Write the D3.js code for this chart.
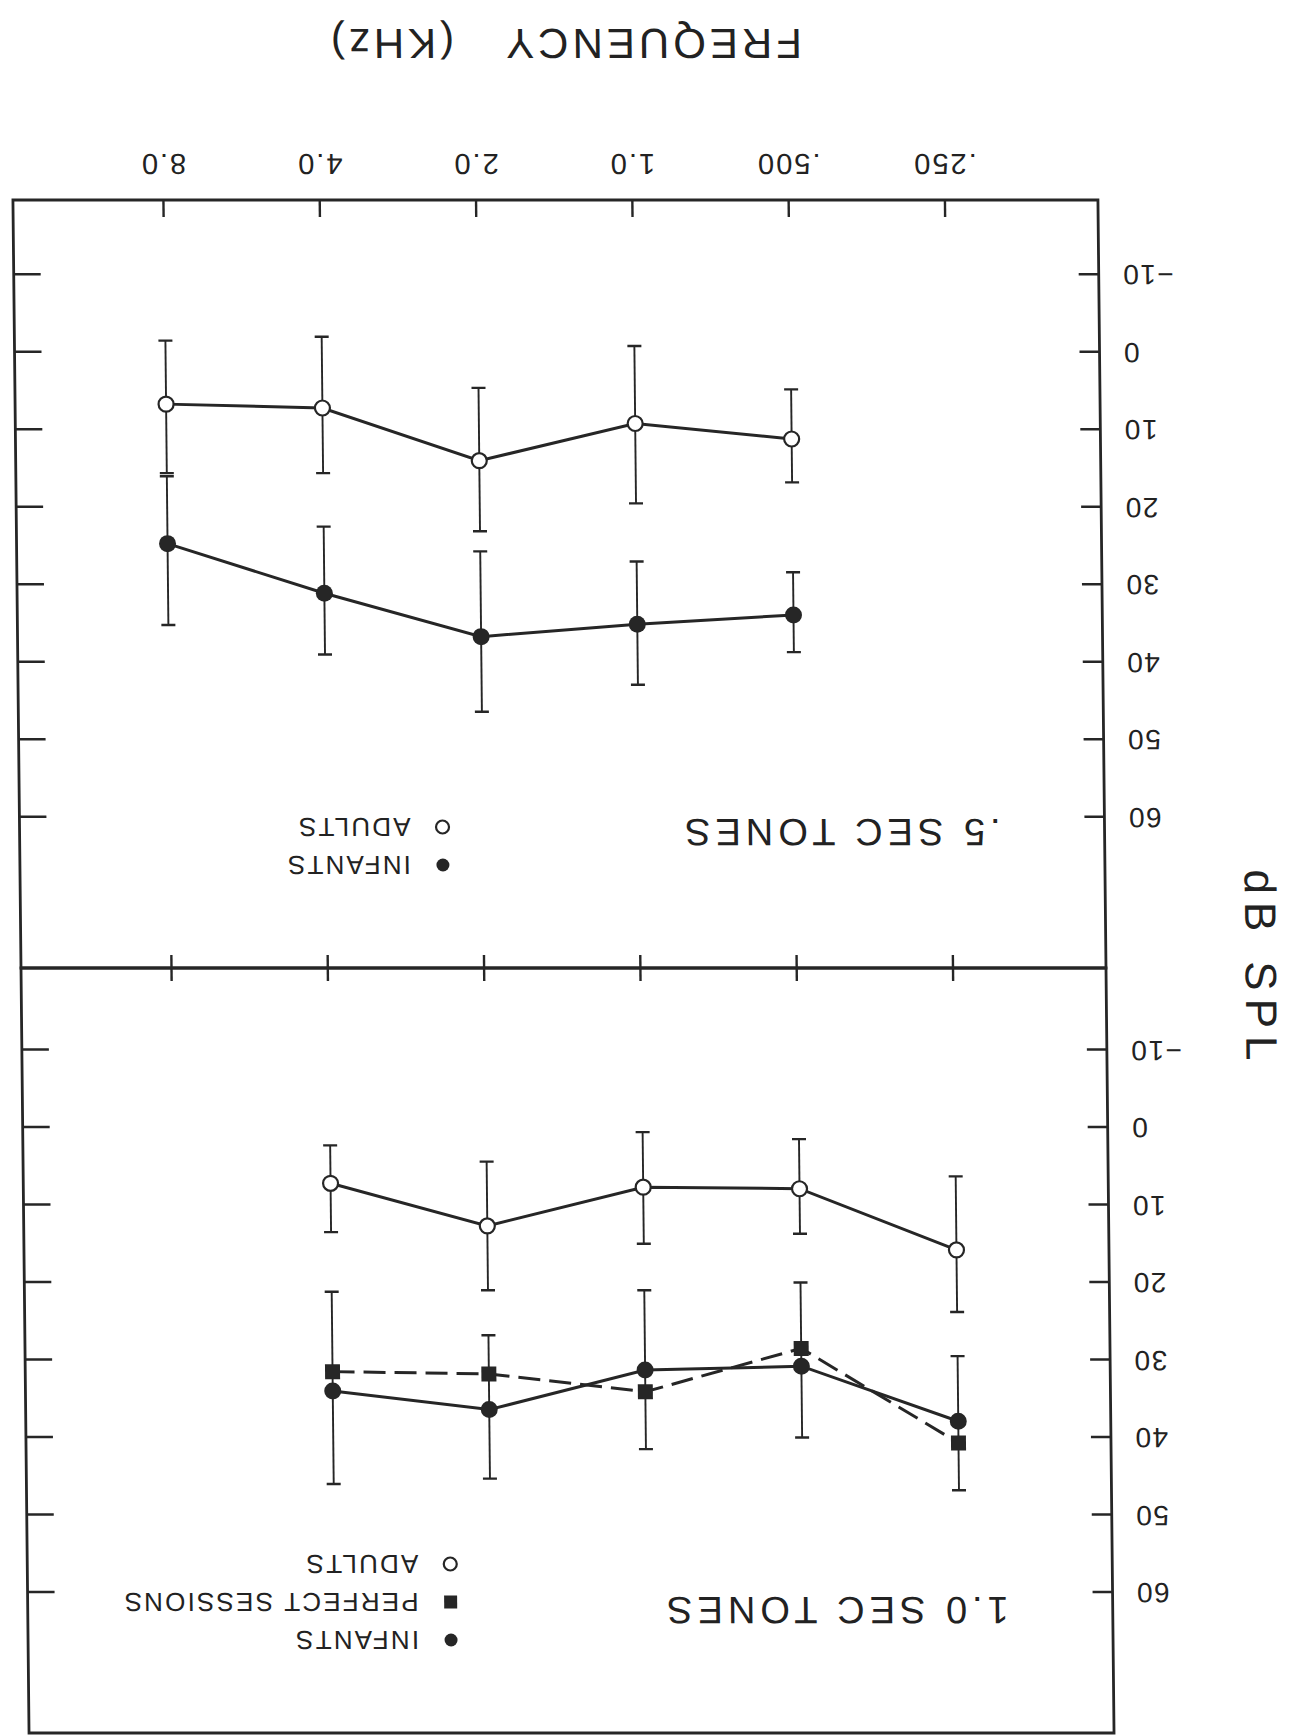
<!DOCTYPE html>
<html>
<head>
<meta charset="utf-8">
<script src="https://cdn.jsdelivr.net/npm/d3@7"></script>
<style>
  body { margin: 0; background: #fff; }
  text { font-family: "Liberation Sans", Arial, sans-serif; fill: #222; }
</style>
</head>
<body>
<div id="main"></div>
<script>
// tick values and labels
var freqTicks = [0.25, 0.5, 1, 2, 4, 8];
var freqLabels = ['.250', '.500', '1.0', '2.0', '4.0', '8.0'];
var dbTicks = [-10, 0, 10, 20, 30, 40, 50, 60];

// .5 sec tones
var halfFreqs = [8, 4, 2, 1, 0.5];
var halfAdultMean = [6.7, 7.2, 14.0, 9.2, 11.2];
var halfAdultLow = [-1.5, -2.0, 4.6, -0.8, 4.8];
var halfAdultHigh = [15.6, 15.6, 23.1, 19.5, 16.8];
var halfInfantMean = [24.7, 31.1, 36.7, 35.1, 33.9];
var halfInfantLow = [16.0, 22.5, 25.7, 27.0, 28.4];
var halfInfantHigh = [35.2, 39.0, 46.4, 42.9, 38.7];

// 1.0 sec tones
var fullFreqs = [4, 2, 1, 0.5, 0.25];
var fullAdultMean = [7.2, 12.7, 7.7, 7.9, 15.8];
var fullAdultLow = [2.3, 4.4, 0.6, 1.5, 6.3];
var fullAdultHigh = [13.5, 21.0, 15.0, 13.7, 23.8];
var fullInfantMean = [34.0, 36.4, 31.3, 30.8, 37.9];
var fullInfantLow = [21.2, 26.8, 21.0, 20.0, 29.5];
var fullInfantHigh = [46.0, 45.3, 41.5, 40.0, 46.8];
var fullPerfectMean = [31.5, 31.8, 34.1, 28.5, 40.7];

function build_series(freqs, mean, low, high) {
  return freqs.map(function (f, i) {
    return { f: f, v: mean[i], lo: low ? low[i] : null, hi: high ? high[i] : null };
  });
}

var width = 1290, height = 1736;
var ink = '#262626';
var skew = 0.0105;

var svg = d3.select('#main').append('svg')
  .attr('width', width).attr('height', height);

// the scan is upside down and a bit skewed
var page = svg.append('g')
  .attr('transform', 'matrix(1,0,' + skew + ',1,' + (-skew * 968) + ',0)')
  .append('g')
  .attr('transform', 'rotate(180,645,868)');

var frameL = 184, frameR = 1269;

var x = d3.scaleLog().base(2)
  .domain([0.25, 8])
  .range([336.5, 1118]);

var panels = [
  {
    title: '1.0 SEC TONES', top: 3, bottom: 768, zero: 608.5, titleY: 125,
    legend: [['INFANTS', 'dot'], ['PERFECT SESSIONS', 'square'], ['ADULTS', 'ring']],
    legendY: 96,
    series: [
      { s: build_series(fullFreqs, fullAdultMean, fullAdultLow, fullAdultHigh), mark: 'ring' },
      { s: build_series(fullFreqs, fullInfantMean, fullInfantLow, fullInfantHigh), mark: 'dot' },
      { s: build_series(fullFreqs, fullPerfectMean), mark: 'square', dash: '22,9' }
    ]
  },
  {
    title: '.5 SEC TONES', top: 768, bottom: 1536, zero: 1383.8, titleY: 903,
    legend: [['INFANTS', 'dot'], ['ADULTS', 'ring']],
    legendY: 871,
    series: [
      { s: build_series(halfFreqs, halfAdultMean, halfAdultLow, halfAdultHigh), mark: 'ring' },
      { s: build_series(halfFreqs, halfInfantMean, halfInfantLow, halfInfantHigh), mark: 'dot' }
    ]
  }
];

function draw_mark(g, mark, cx, cy, size) {
  if (mark === 'square') {
    g.append('rect')
      .attr('x', cx - size).attr('y', cy - size)
      .attr('width', size * 2).attr('height', size * 2)
      .attr('fill', ink);
  } else {
    g.append('circle')
      .attr('cx', cx).attr('cy', cy).attr('r', size)
      .attr('fill', mark === 'dot' ? ink : '#fff')
      .attr('stroke', ink)
      .attr('stroke-width', mark === 'dot' ? 0 : 2.2);
  }
}

panels.forEach(function (p) {

  var y = d3.scaleLinear()
    .domain([0, 60])
    .range([p.zero, p.zero - 60 * 7.75]);

  var g = page.append('g');

  g.append('rect')
    .attr('x', frameL).attr('y', p.top)
    .attr('width', frameR - frameL).attr('height', p.bottom - p.top)
    .attr('fill', 'none').attr('stroke', ink).attr('stroke-width', 2.8);

  var left = g.append('g')
    .attr('transform', 'translate(' + frameL + ',0)')
    .call(d3.axisLeft(y).tickValues(dbTicks).tickSizeInner(-20).tickSizeOuter(0).tickPadding(23));
  left.select('.domain').remove();
  left.selectAll('line').attr('stroke', ink).attr('stroke-width', 2.4);
  left.selectAll('text').attr('font-size', 28).attr('letter-spacing', 1.5)
    .attr('font-family', '"Liberation Sans", Arial, sans-serif').attr('fill', ink);

  var right = g.append('g')
    .attr('transform', 'translate(' + frameR + ',0)')
    .call(d3.axisRight(y).tickValues(dbTicks).tickSizeInner(-27).tickSizeOuter(0).tickFormat(''));
  right.select('.domain').remove();
  right.selectAll('line').attr('stroke', ink).attr('stroke-width', 2.4);

  if (p.bottom === 1536) {
    var bottom = g.append('g')
      .attr('transform', 'translate(0,' + p.bottom + ')')
      .call(d3.axisBottom(x).tickValues(freqTicks).tickSizeInner(-17).tickSizeOuter(0).tickPadding(25)
        .tickFormat(function (d, i) { return freqLabels[i]; }));
    bottom.select('.domain').remove();
    bottom.selectAll('line').attr('stroke', ink).attr('stroke-width', 2.4);
    bottom.selectAll('text').attr('font-size', 29).attr('letter-spacing', 2)
      .attr('font-family', '"Liberation Sans", Arial, sans-serif').attr('fill', ink);
  } else {
    var mid = g.append('g')
      .attr('transform', 'translate(0,' + (p.bottom - 13) + ')')
      .call(d3.axisBottom(x).tickValues(freqTicks).tickSizeInner(26).tickSizeOuter(0).tickFormat(''));
    mid.select('.domain').remove();
    mid.selectAll('line').attr('stroke', ink).attr('stroke-width', 2.4);
  }

  // title
  g.append('text')
    .attr('x', 288).attr('y', p.titleY).attr('dy', '0.36em')
    .attr('font-size', 38).attr('letter-spacing', 5)
    .text(p.title);

  // legend
  p.legend.forEach(function (l, i) {
    var ly = p.legendY + i * 38;
    draw_mark(g, l[1], 846, ly, 6.5);
    g.append('text')
      .attr('x', 878).attr('y', ly).attr('dy', '0.36em')
      .attr('font-size', 26).attr('letter-spacing', 2.2)
      .text(l[0]);
  });

  var line = d3.line()
    .x(function (d) { return x(d.f); })
    .y(function (d) { return y(d.v); });

  // error bars
  p.series.forEach(function (ser) {
    ser.s.forEach(function (d) {
      if (d.lo === null) return;
      g.append('line')
        .attr('x1', x(d.f)).attr('x2', x(d.f))
        .attr('y1', y(d.lo)).attr('y2', y(d.hi))
        .attr('stroke', ink).attr('stroke-width', 1.9);
      [d.lo, d.hi].forEach(function (e) {
        g.append('line')
          .attr('x1', x(d.f) - 7).attr('x2', x(d.f) + 7)
          .attr('y1', y(e)).attr('y2', y(e))
          .attr('stroke', ink).attr('stroke-width', 2.4);
      });
    });
  });

  p.series.forEach(function (ser) {
    g.append('path')
      .datum(ser.s)
      .attr('d', line)
      .attr('fill', 'none')
      .attr('stroke', ink)
      .attr('stroke-width', 3)
      .attr('stroke-dasharray', ser.dash || null);
  });

  p.series.forEach(function (ser) {
    ser.s.forEach(function (d) {
      var size = ser.mark === 'dot' ? 8.5 : (ser.mark === 'square' ? 7.5 : 7.5);
      draw_mark(g, ser.mark, x(d.f), y(d.v), size);
    });
  });
});

// axis titles
page.append('text')
  .attr('x', 716).attr('y', 1692).attr('dy', '0.36em')
  .attr('text-anchor', 'middle')
  .attr('font-size', 42).attr('letter-spacing', 4)
  .text('FREQUENCY')
  .append('tspan').attr('dx', 48).text('(KHz)');

page.append('text')
  .attr('transform', 'translate(28.5,767) rotate(-90)')
  .attr('text-anchor', 'middle').attr('dy', '0.36em')
  .attr('font-size', 44).attr('letter-spacing', 8)
  .text('dB')
  .append('tspan').attr('dx', 22).text('SPL');
</script>
</body>
</html>
